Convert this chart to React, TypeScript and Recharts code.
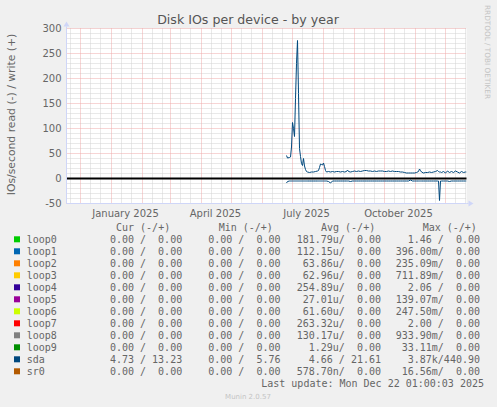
import React from "react";
import { LineChart, Line, XAxis, YAxis, CartesianGrid, ReferenceLine } from "recharts";

// sda samples, IOs/second (write plotted up, read plotted down)
const dates = [
  "2025-06-25", "2025-06-26", "2025-06-28", "2025-06-29", "2025-06-30",
  "2025-07-01", "2025-07-02", "2025-07-03", "2025-07-04", "2025-07-05", "2025-07-06", "2025-07-07",
  "2025-07-08", "2025-07-09", "2025-07-10", "2025-07-11", "2025-07-12", "2025-07-13", "2025-07-14",
  "2025-07-15", "2025-07-16", "2025-07-18", "2025-07-20", "2025-07-22", "2025-07-24", "2025-07-26",
  "2025-07-27", "2025-07-28", "2025-07-29", "2025-07-30", "2025-07-31",
  "2025-08-01", "2025-08-02", "2025-08-03", "2025-08-04", "2025-08-06", "2025-08-08", "2025-08-10",
  "2025-08-12", "2025-08-14", "2025-08-16", "2025-08-18", "2025-08-20", "2025-08-22", "2025-08-24",
  "2025-08-25", "2025-08-26", "2025-08-28", "2025-08-30",
  "2025-09-01", "2025-09-03", "2025-09-05", "2025-09-07", "2025-09-09", "2025-09-11", "2025-09-13",
  "2025-09-15", "2025-09-17", "2025-09-19", "2025-09-21", "2025-09-23", "2025-09-25", "2025-09-27",
  "2025-09-29",
  "2025-10-01", "2025-10-03", "2025-10-05", "2025-10-07", "2025-10-09", "2025-10-11", "2025-10-13",
  "2025-10-15", "2025-10-17", "2025-10-19", "2025-10-21", "2025-10-23", "2025-10-25", "2025-10-27",
  "2025-10-29", "2025-10-31",
  "2025-11-02", "2025-11-04", "2025-11-05", "2025-11-06", "2025-11-07", "2025-11-09", "2025-11-11",
  "2025-11-13", "2025-11-15", "2025-11-17", "2025-11-19", "2025-11-21", "2025-11-23", "2025-11-24",
  "2025-11-25", "2025-11-26", "2025-11-27", "2025-11-29",
  "2025-12-01", "2025-12-03", "2025-12-05", "2025-12-07", "2025-12-09", "2025-12-11", "2025-12-13",
  "2025-12-15", "2025-12-17", "2025-12-19", "2025-12-21", "2025-12-22",
];

const sdaWrite = [
  46, 41, 42, 43, 63,
  112, 100, 84, 160, 230, 276, 170,
  60, 44, 30, 26, 40, 25, 18,
  14, 13, 12, 13, 13, 14, 15,
  16, 22, 29, 28, 27,
  31, 24, 16, 13, 14, 13, 14,
  13, 14, 14, 13, 14, 13, 14,
  17, 14, 13, 14,
  15, 14, 15, 14, 15, 16, 16,
  15, 15, 14, 15, 14, 15, 15,
  15,
  14, 14, 15, 14, 15, 14, 14,
  14, 13, 13, 12, 11, 11, 11,
  11, 11,
  12, 14, 19, 16, 13, 11, 12,
  12, 13, 12, 13, 14, 16, 14,
  13, 13, 12, 14,
  11, 15, 12, 14, 12, 15, 13,
  11, 14, 12, 13, 13,
];

const sdaRead = [
  9, 6, 5, 5, 5,
  5, 5, 5, 5, 5, 5, 5,
  5, 5, 5, 5, 5, 5, 5,
  5, 5, 5, 5, 5, 5, 5,
  5, 5, 5, 5, 5,
  5, 5, 5, 5, 6, 9, 5,
  5, 5, 5, 5, 5, 5, 5,
  5, 5, 6, 5,
  5, 5, 5, 5, 5, 5, 5,
  5, 5, 5, 5, 5, 5, 5,
  5,
  5, 5, 5, 5, 5, 5, 5,
  5, 5, 5, 5, 5, 5, 3,
  5, 5,
  5, 5, 5, 5, 5, 5, 5,
  5, 5, 5, 5, 5, 5, 5,
  44, 5, 5, 5,
  5, 5, 6, 5, 5, 5, 5,
  5, 5, 5, 5, 5,
];

const xLabels = ["January 2025", "April 2025", "July 2025", "October 2025"];
const xLabelDates = ["2025-01-15", "2025-04-15", "2025-07-15", "2025-10-15"];
const monthStarts = [
  "2024-12-01", "2025-01-01", "2025-02-01", "2025-03-01", "2025-04-01", "2025-05-01", "2025-06-01",
  "2025-07-01", "2025-08-01", "2025-09-01", "2025-10-01", "2025-11-01", "2025-12-01",
];
const yTicks = [-50, 0, 50, 100, 150, 200, 250, 300];

const devices = ["loop0", "loop1", "loop2", "loop3", "loop4", "loop5", "loop6", "loop7", "loop8", "loop9", "sda", "sr0"];
const deviceColors = ["#00CC00", "#0066B3", "#FF8000", "#FFCC00", "#330099", "#990099", "#CCFF00", "#FF0000", "#808080", "#008F00", "#00487D", "#B35A00"];
const curCol = ["0.00 /  0.00", "0.00 /  0.00", "0.00 /  0.00", "0.00 /  0.00", "0.00 /  0.00", "0.00 /  0.00", "0.00 /  0.00", "0.00 /  0.00", "0.00 /  0.00", "0.00 /  0.00", "4.73 / 13.23", "0.00 /  0.00"];
const minCol = ["0.00 /  0.00", "0.00 /  0.00", "0.00 /  0.00", "0.00 /  0.00", "0.00 /  0.00", "0.00 /  0.00", "0.00 /  0.00", "0.00 /  0.00", "0.00 /  0.00", "0.00 /  0.00", "0.00 /  5.76", "0.00 /  0.00"];
const avgCol = ["181.79u/  0.00", "112.15u/  0.00", "63.86u/  0.00", "62.96u/  0.00", "254.89u/  0.00", "27.01u/  0.00", "61.60u/  0.00", "263.32u/  0.00", "130.17u/  0.00", "1.29u/  0.00", "4.66 / 21.61", "578.70n/  0.00"];
const maxCol = ["1.46 /  0.00", "396.00m/  0.00", "235.09m/  0.00", "711.89m/  0.00", "2.06 /  0.00", "139.07m/  0.00", "247.50m/  0.00", "2.00 /  0.00", "933.90m/  0.00", "33.11m/  0.00", "3.87k/440.90", "16.56m/  0.00"];

const DAY0 = Date.parse("2024-12-01");
const toDay = (s: string) => (Date.parse(s) - DAY0) / 86400000;

const table = dates.map((d, i) => ({ day: toDay(d), write: sdaWrite[i], read: -sdaRead[i] }));
const labelDays = xLabelDates.map(toDay);
const majorX = monthStarts.map(toDay);
// minor grid on the 11th and 21st of each month
const minorX: number[] = [toDay("2024-11-21")];
monthStarts.forEach((m) => {
  const [y, mo] = m.split("-");
  [11, 21].forEach((d) => {
    const v = toDay(`${y}-${mo}-${d}`);
    if (v < 386) minorX.push(v);
  });
});
const minorY: number[] = [];
for (let v = -40; v < 300; v += 10) if (v % 50 !== 0) minorY.push(v);

const FONT = "DejaVu Sans, sans-serif";
const MONO = "DejaVu Sans Mono, monospace";
const TXT = "#666";
const AXIS = "#CFD6F8";
const pre = (s: string) => s.replace(/ /g, "\u00a0");

const XTick = ({ x, y, payload }: any) => (
  <text x={x} y={y + 13} textAnchor="middle" fontSize={10} fill={TXT} fontFamily={FONT}>
    {xLabels[labelDays.indexOf(payload.value)]}
  </text>
);

const YTick = ({ x, y, payload }: any) => (
  <text x={x - 5} y={y + 3.6} textAnchor="end" fontSize={10} fill={TXT} fontFamily={FONT}>
    {payload.value}
  </text>
);

const XArrow = ({ viewBox }: any) => {
  const { x, y, width } = viewBox;
  const e = x + width;
  return (
    <g>
      <line x1={e} y1={y} x2={e + 2} y2={y} stroke={AXIS} />
      <polygon points={`${e + 2},${y - 3} ${e + 7},${y} ${e + 2},${y + 3}`} fill={AXIS} />
    </g>
  );
};

const YArrow = ({ viewBox }: any) => {
  const { x, y, width } = viewBox;
  const a = x + width;
  return (
    <g>
      <line x1={a} y1={y} x2={a} y2={y - 2} stroke={AXIS} />
      <polygon points={`${a - 3},${y - 2} ${a},${y - 7} ${a + 3},${y - 2}`} fill={AXIS} />
    </g>
  );
};

export default function App() {
  const rowY = (i: number) => 239.3 + i * 12;
  return (
    <div style={{ position: "absolute", left: 0, top: 0, width: 497, height: 407, background: "#f0f0f0" }}>
      <LineChart width={497} height={220} data={table} margin={{ top: 28.5, right: 30.5, left: 0.5, bottom: 0 }}>
        <CartesianGrid fill="#ffffff" horizontal={false} vertical={false} />
        <CartesianGrid
          stroke="#d2d2d2"
          strokeDasharray="1 1"
          horizontalValues={minorY}
          verticalValues={minorX}
        />
        <CartesianGrid
          stroke="#eeaaaa"
          strokeDasharray="1 1"
          horizontalValues={yTicks}
          verticalValues={majorX}
        />
        <XAxis
          type="number"
          dataKey="day"
          domain={[-14, 386]}
          allowDataOverflow
          ticks={labelDays}
          interval={0}
          tickLine={false}
          tickSize={0}
          tickMargin={0}
          height={16.5}
          axisLine={{ stroke: AXIS }}
          tick={<XTick />}
          label={(p: any) => <XArrow {...p} />}
        />
        <YAxis
          type="number"
          domain={[-50, 300]}
          ticks={yTicks}
          interval={0}
          width={66}
          tickLine={false}
          tickSize={0}
          tickMargin={0}
          axisLine={{ stroke: AXIS }}
          tick={<YTick />}
          label={(p: any) => <YArrow {...p} />}
        />
        <ReferenceLine y={0} stroke="#000000" strokeWidth={2} />
        <Line type="linear" dataKey="write" stroke="#00487D" strokeWidth={1} dot={false} isAnimationActive={false} />
        <Line type="linear" dataKey="read" stroke="#00487D" strokeWidth={1} dot={false} isAnimationActive={false} />
      </LineChart>
      <svg width={497} height={407} style={{ position: "absolute", left: 0, top: 0, pointerEvents: "none" }}>
        <text x={248} y={24} textAnchor="middle" fontSize={12.6} fill="#555" fontFamily={FONT}>
          Disk IOs per device - by year
        </text>
        <text
          x={15}
          y={114.5}
          textAnchor="middle"
          fontSize={10.8}
          fill={TXT}
          fontFamily={FONT}
          transform="rotate(-90 15 114.5)"
        >
          IOs/second read (-) / write (+)
        </text>
        <text x={485} y={5} fontSize={7.3} fill="#c4c4c4" fontFamily={FONT} transform="rotate(90 485 5)">
          RRDTOOL / TOBI OETIKER
        </text>
        <g fontFamily={MONO} fontSize={10} fill={TXT}>
          <text x={116} y={231.3}>{pre("Cur (-/+)")}</text>
          <text x={218.7} y={231.3}>{pre("Min (-/+)")}</text>
          <text x={321} y={231.3}>{pre("Avg (-/+)")}</text>
          <text x={422.7} y={231.3}>{pre("Max (-/+)")}</text>
          {devices.map((d, i) => (
            <g key={d}>
              <rect x={14} y={rowY(i) - 3} width={6} height={6} fill={deviceColors[i]} />
              <text x={26.7} y={rowY(i) + 3.6}>{d}</text>
              <text x={182.2} y={rowY(i) + 3.6} textAnchor="end">{pre(curCol[i])}</text>
              <text x={280.5} y={rowY(i) + 3.6} textAnchor="end">{pre(minCol[i])}</text>
              <text x={381} y={rowY(i) + 3.6} textAnchor="end">{pre(avgCol[i])}</text>
              <text x={480} y={rowY(i) + 3.6} textAnchor="end">{pre(maxCol[i])}</text>
            </g>
          ))}
          <text x={484} y={387} textAnchor="end">{pre("Last update: Mon Dec 22 01:00:03 2025")}</text>
        </g>
        <text x={248} y={398.7} textAnchor="middle" fontSize={7} fill="#c4c4c4" fontFamily={FONT}>
          Munin 2.0.57
        </text>
      </svg>
    </div>
  );
}
